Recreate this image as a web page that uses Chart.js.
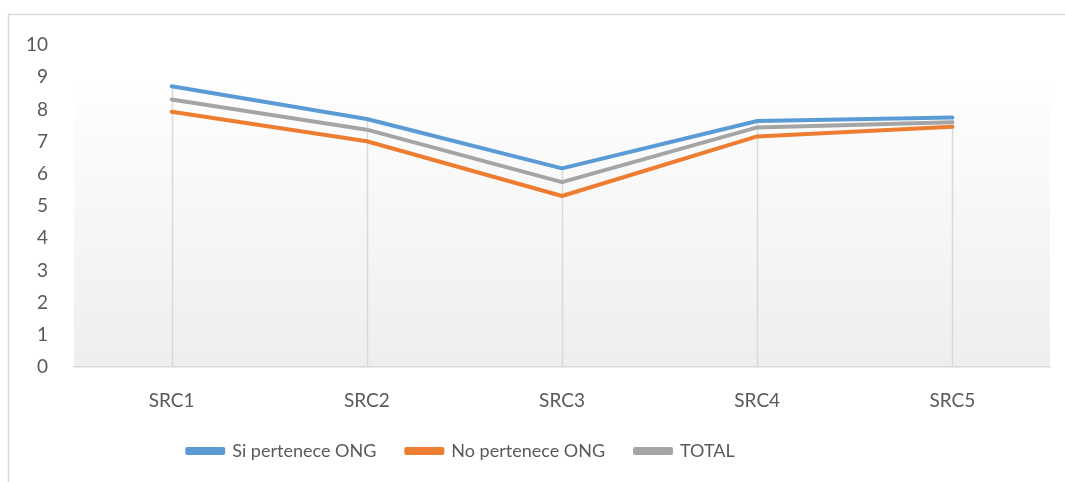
<!DOCTYPE html>
<html><head><meta charset="utf-8">
<script src="https://cdn.jsdelivr.net/npm/chart.js@4"></script>
<style>html,body{margin:0;padding:0;background:#fff}#w{width:1065px;height:482px;position:relative}</style>
</head><body><div id="w"><canvas id="c"></canvas></div>
<script>
const categories = ["SRC1","SRC2","SRC3","SRC4","SRC5"];
const siPertenece = [8.72, 7.70, 6.17, 7.64, 7.75];
const noPertenece = [7.93, 7.01, 5.31, 7.16, 7.46];
const total = [8.31, 7.37, 5.74, 7.44, 7.60];
const yTicks = [0,1,2,3,4,5,6,7,8,9,10];

const FONT = "Lato, 'Open Sans', sans-serif";
const TXT = "#595959";

const bgPlugin = {
  id: 'bg',
  afterLayout(chart) {
    const lg = chart.legend;
    if (lg) { lg.left -= 68; lg.right -= 68; }
  },
  beforeDraw(chart) {
    const {ctx, chartArea: a} = chart;
    ctx.save();
    ctx.strokeStyle = '#d9d9d9'; ctx.lineWidth = 1.5;
    ctx.strokeRect(8.5, 14.5, 1100, 600);
    const top = a.top + 42;
    const g = ctx.createLinearGradient(0, top, 0, a.bottom);
    g.addColorStop(0, '#fefefe'); g.addColorStop(1, '#eeeeee');
    ctx.fillStyle = g;
    ctx.fillRect(a.left, top, a.right - a.left, a.bottom - top);
    ctx.restore();
  },
  beforeDatasetsDraw(chart) {
    const {ctx, chartArea: a} = chart;
    const ys = chart.scales.y, xs = chart.scales.x;
    ctx.save();
    ctx.strokeStyle = '#d9d9d9'; ctx.lineWidth = 1.5;
    categories.forEach((c, i) => {
      const m = Math.max(siPertenece[i], noPertenece[i], total[i]);
      const x = Math.round(xs.getPixelForValue(i)) + 0.5;
      ctx.beginPath(); ctx.moveTo(x, ys.getPixelForValue(m)); ctx.lineTo(x, a.bottom); ctx.stroke();
    });
    ctx.restore();
  }
};

new Chart(document.getElementById('c'), {
  type: 'line',
  data: {
    labels: categories,
    datasets: [
      {label: 'Si pertenece ONG', data: siPertenece, borderColor: '#5b9bd5', backgroundColor: '#5b9bd5'},
      {label: 'No pertenece ONG', data: noPertenece, borderColor: '#ed7d31', backgroundColor: '#ed7d31'},
      {label: 'TOTAL', data: total, borderColor: '#a5a5a5', backgroundColor: '#a5a5a5'}
    ].map(d => Object.assign(d, {borderWidth: 4, pointRadius: 0, borderCapStyle: 'round', borderJoinStyle: 'round', tension: 0}))
  },
  options: {
    responsive: true, maintainAspectRatio: false, animation: false,
    layout: {padding: {left: 8, right: 15, top: 45, bottom: 12}},
    plugins: {
      tooltip: {enabled: false},
      legend: {
        position: 'bottom',
        labels: {boxWidth: 36, boxHeight: 4, color: TXT, font: {family: FONT, size: 18}, padding: 30}
      }
    },
    scales: {
      x: {
        offset: true,
        clip: false,
        grid: {display: false, drawTicks: false},
        border: {color: '#d9d9d9', width: 1.5},
        ticks: {color: TXT, font: {family: FONT, size: 19}, padding: 22},
        afterFit: s => { s.height = 45; }
      },
      y: {
        min: 0, max: 10,
        afterBuildTicks: s => { s.ticks = yTicks.map(v => ({value: v})); },
        grid: {display: false},
        border: {display: false},
        ticks: {color: TXT, font: {family: FONT, size: 19}, padding: 18}
      }
    }
  },
  plugins: [bgPlugin]
});
</script></body></html>
